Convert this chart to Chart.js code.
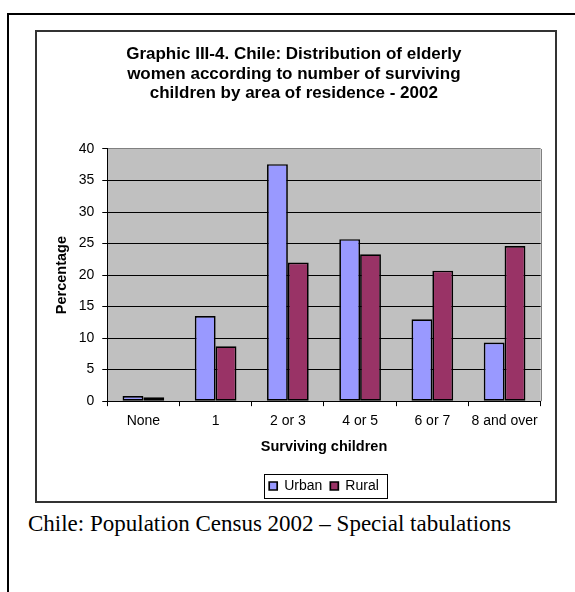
<!DOCTYPE html>
<html>
<head>
<meta charset="utf-8">
<title>Chile: elderly women by surviving children</title>
<script src="https://cdn.jsdelivr.net/npm/chart.js@4/dist/chart.umd.min.js"></script>
<style>
  html, body { margin: 0; padding: 0; background: #fff; overflow: hidden; }
  #frame { position: absolute; left: 7px; top: 13px; width: 800px; height: 800px; border: 2px solid #000; }
  #box { position: absolute; left: 35px; top: 30px; width: 518px; height: 469px; border: 2px solid #333; }
  #wrap { position: absolute; left: 37px; top: 32px; width: 518px; height: 471px; }
  #source { position: absolute; left: 28px; top: 511.7px; margin: 0; white-space: nowrap;
            font: 23px/23px "Liberation Serif", "Times New Roman", serif; color: #000; }
</style>
</head>
<body>
<div id="frame"></div>
<div id="box"></div>
<div id="wrap"><canvas id="chart"></canvas></div>
<p id="source">Chile: Population Census 2002 – Special tabulations</p>
<script>
// Surviving children categories and percentage of elderly women, by area
const categories = ['None', '1', '2 or 3', '4 or 5', '6 or 7', '8 and over'];
const urban = [0.8, 13.5, 37.6, 25.7, 13.0, 9.3];
const rural = [0.6, 8.7, 22.0, 23.3, 20.7, 24.6];
const seriesNames = ['Urban', 'Rural'];
const titleLines = [
  'Graphic III-4. Chile: Distribution of elderly',
  'women according to number of surviving',
  'children by area of residence - 2002'
];
const yTitle = 'Percentage';
const xTitle = 'Surviving children';

Chart.defaults.font.family = '"Liberation Sans", Arial, sans-serif';
Chart.defaults.color = '#000';

// grey plot background plus the grey right edge of the plot frame
const plotFrame = {
  id: 'plotFrame',
  beforeDraw(chart) {
    const {ctx, chartArea: a} = chart;
    ctx.save();
    ctx.fillStyle = '#C0C0C0';
    ctx.fillRect(a.left, a.top, a.right - a.left, a.bottom - a.top);
    ctx.restore();
  },
  beforeDatasetsDraw(chart) {
    const {ctx, chartArea: a} = chart;
    const x = Math.round(a.right) + 0.5;
    ctx.save();
    ctx.strokeStyle = '#808080';
    ctx.lineWidth = 1;
    ctx.beginPath();
    ctx.moveTo(x, a.top);
    ctx.lineTo(x, a.bottom);
    ctx.stroke();
    ctx.restore();
  }
};

// thin box around the legend entries
const legendBorder = {
  id: 'legendBorder',
  afterDraw(chart) {
    const lg = chart.legend;
    if (!lg || !lg.legendHitBoxes || !lg.legendHitBoxes.length) return;
    const boxes = lg.legendHitBoxes;
    const first = boxes[0], last = boxes[boxes.length - 1];
    const cy = first.top + first.height / 2;
    const x1 = Math.round(first.left - 5.4) + 0.5;
    const x2 = Math.round(last.left + last.width + 8.6) + 0.5;
    const y1 = Math.round(cy - 12.5) + 0.5;
    const y2 = Math.round(cy + 11.9) + 0.5;
    const ctx = chart.ctx;
    ctx.save();
    ctx.strokeStyle = '#000';
    ctx.lineWidth = 1;
    ctx.strokeRect(x1, y1, x2 - x1, y2 - y1);
    ctx.restore();
  }
};

new Chart(document.getElementById('chart'), {
  type: 'bar',
  data: {
    labels: categories,
    datasets: [
      { label: seriesNames[0], data: urban, backgroundColor: '#9999FF',
        borderColor: '#000', borderWidth: 1.7, borderSkipped: false },
      { label: seriesNames[1], data: rural, backgroundColor: '#993366',
        borderColor: '#000', borderWidth: 1.7, borderSkipped: false }
    ]
  },
  options: {
    responsive: true,
    maintainAspectRatio: false,
    devicePixelRatio: 1,
    animation: false,
    layout: { padding: { left: 10, right: 14.3, top: 0, bottom: 0 } },
    datasets: { bar: { categoryPercentage: 0.577, barPercentage: 1 } },
    plugins: {
      title: {
        display: true,
        text: titleLines,
        color: '#000',
        font: { size: 17, weight: 'bold', lineHeight: 1.147 },
        padding: { top: 13, bottom: 45.5 }
      },
      legend: {
        position: 'bottom',
        fullSize: false,
        labels: { boxWidth: 8, boxHeight: 8, padding: 8, color: '#000', font: { size: 14 } }
      },
      tooltip: { enabled: false }
    },
    scales: {
      x: {
        grid: { display: true, drawOnChartArea: false, drawTicks: true, tickLength: 5,
                color: '#000', offset: true },
        border: { color: '#000', width: 1 },
        ticks: { padding: 6.5, color: '#000', font: { size: 14 }, maxRotation: 0 },
        title: { display: true, text: xTitle, color: '#000',
                 font: { size: 14.5, weight: 'bold' }, padding: { top: 2.2, bottom: 15.45 } }
      },
      y: {
        min: 0,
        max: 40,
        grid: {
          color: ctx => (ctx.tick && ctx.tick.value === 40 ? '#808080' : '#000'),
          tickColor: '#000',
          tickLength: 5,
          lineWidth: 1
        },
        border: { color: '#000', width: 1 },
        ticks: { stepSize: 5, padding: 8, color: '#000', font: { size: 14 } },
        title: { display: true, text: yTitle, color: '#000',
                 font: { size: 14.5, weight: 'bold' }, padding: { top: 6.3, bottom: 0 } }
      }
    }
  },
  plugins: [plotFrame, legendBorder]
});
</script>
</body>
</html>
